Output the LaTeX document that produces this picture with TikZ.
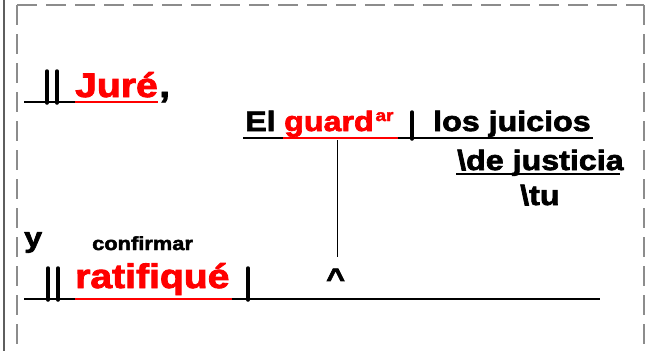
\documentclass[tikz,border=0pt]{standalone}
\usepackage{fontspec}
\newfontfamily\wf[FakeStretch=1.15,FakeBold=2.5,BoldFeatures={FakeStretch=1.15,FakeBold=2.5}]{Liberation Sans}
\definecolor{edgegray}{HTML}{5E5E5E}
\definecolor{framegray}{HTML}{8C8C8C}
\definecolor{hired}{HTML}{FF0000}
\tikzset{
  big/.style={inner sep=0pt, anchor=base west, font=\wf\bfseries\fontsize{34}{34}\selectfont},
  mid/.style={inner sep=0pt, anchor=base west, font=\wf\bfseries\fontsize{28}{28}\selectfont},
  small/.style={inner sep=0pt, anchor=base west, font=\wf\bfseries\fontsize{19}{19}\selectfont},
  sup/.style={inner sep=0pt, anchor=base west, font=\wf\bfseries\fontsize{16.5}{16.5}\selectfont},
  ul/.style={line width=2pt},
  bar/.style={line width=3.5pt, line cap=round},
  frame/.style={framegray, line width=2.5pt, dash pattern=on 20pt off 9pt},
}
\begin{document}
\begin{tikzpicture}[x=1pt,y=-1pt]
\useasboundingbox (0,0) rectangle (650,351);
% edges
\draw[edgegray, line width=2pt] (4,0) -- (4,351);
\draw[frame] (17,5) -- (644,5);
\draw[frame] (17,5) -- (17,360);
\draw[frame] (644,5) -- (644,360);
% line 1
\node[big, text=hired] (jure) at (75,97) {Juré};
\node[big] (comma) at ([xshift=1pt]jure.base east) {,};
\draw[ul] (24,101.5) -- (75,101.5);
\draw[ul, hired] (75,101.5) -- (158,101.5);
\draw[bar] (47,71) -- (47,103);
\draw[bar] (57,71) -- (57,103);
% line 2
\node[mid] (el) at (245,131) {El};
\node[mid, text=hired] (guard) at (284,131) {guard};
\node[sup, text=hired] (ar) at ([xshift=1.5pt,yshift=10pt]guard.base east) {ar};
\node[mid] (juicios) at (433,131) {los juicios};
\draw[ul] (243,137.5) -- (283,137.5);
\draw[ul, hired] (283,137.5) -- (398,137.5);
\draw[ul] (398,137.5) -- (593,137.5);
\draw[bar] (412,112) -- (412,139);
% line 3
\node[mid] (justicia) at (457,170) {\textbackslash de justicia};
\draw[ul] (456,174) -- (620,174);
\node[mid] (tu) at (520,205) {\textbackslash tu};
% line 4
\node[mid] (y) at (24,247) {y};
\node[small] (conf) at (92,250) {confirmar};
\node[big, text=hired] (rat) at (75,288) {ratifiqué};
\draw[ul] (24,298.5) -- (75,298.5);
\draw[ul, hired] (75,298.5) -- (232,298.5);
\draw[ul] (232,298.5) -- (600,298.5);
\draw[bar] (48,268) -- (48,300);
\draw[bar] (58,268) -- (58,300);
\draw[bar] (248,268) -- (248,300);
\node[mid] (caret) at (326,288) {\char`\^};
% link
\coordinate (top) at (337,140);
\coordinate (bot) at (337,257);
\draw[line width=1pt] (top) -- (bot);
\end{tikzpicture}
\end{document}
